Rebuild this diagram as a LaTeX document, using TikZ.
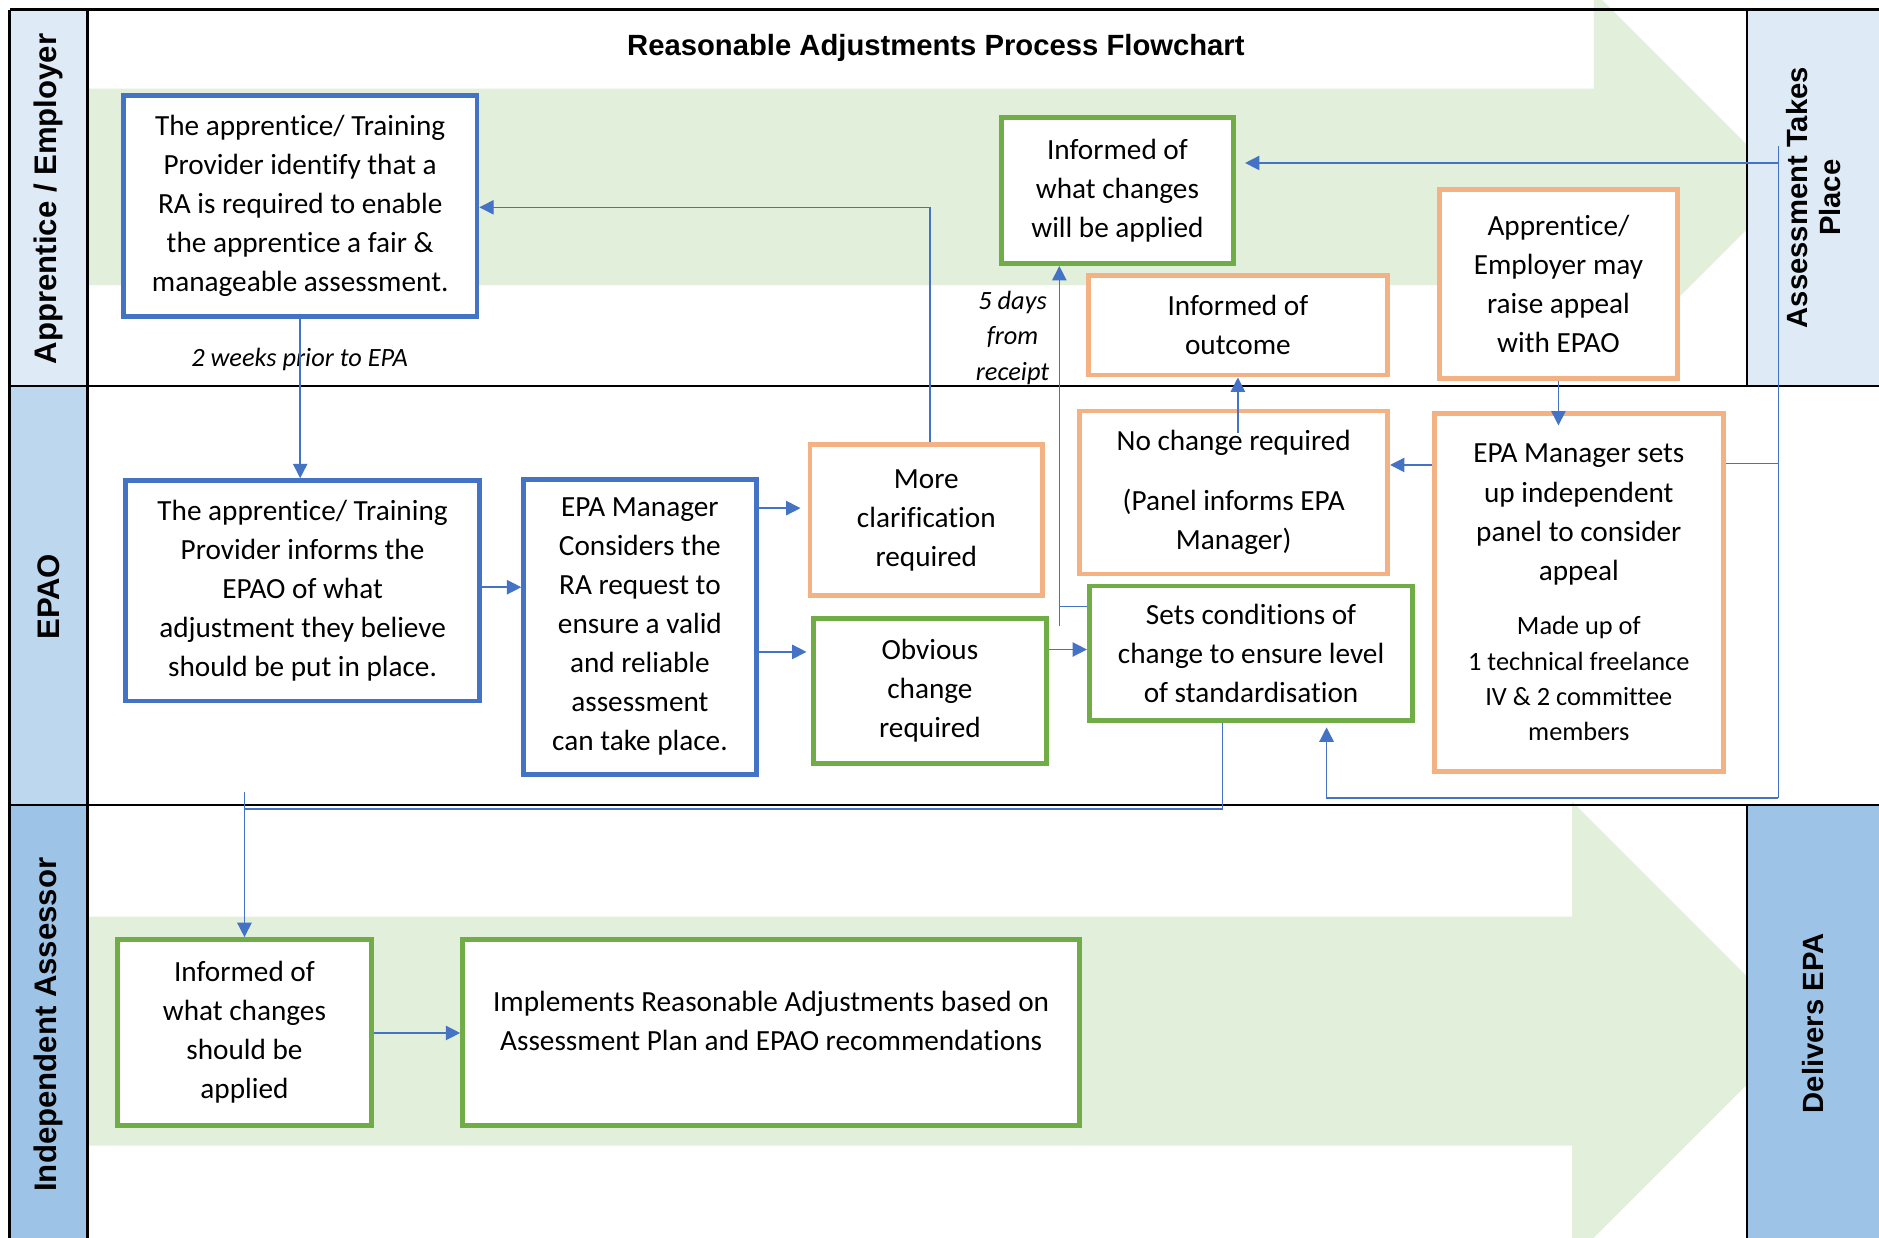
\documentclass[tikz,border=0pt]{standalone}
\usepackage{fontspec}
\setmainfont{Carlito}[Ligatures=CommonOff]
\newfontfamily\headfont{Liberation Sans}
\usetikzlibrary{arrows.meta}
\definecolor{cblue}{HTML}{4472C4}
\definecolor{corange}{HTML}{F4B183}
\definecolor{cgreen}{HTML}{70AD47}
\definecolor{afill}{HTML}{E2EFDA}
\definecolor{laneA}{HTML}{DEEBF7}
\definecolor{laneB}{HTML}{BDD7EE}
\definecolor{laneC}{HTML}{9DC3E6}
\definecolor{clink}{HTML}{4472C4}
\begin{document}
\begin{tikzpicture}[x=0.5pt,y=-0.5pt,
  box/.style={draw, line width=2pt, fill=white, align=flush center, inner sep=0pt,
    font=\fontsize{12.2}{16.3}\selectfont},
  bluebox/.style={box, draw=cblue},
  orbox/.style={box, draw=corange},
  grbox/.style={box, draw=cgreen},
  conn/.style={draw=clink, line width=0.6pt, -{Triangle[length=6pt,width=6pt]}},
  plainline/.style={draw=clink, line width=0.6pt},
  lanelbl/.style={rotate=90, align=center, font=\headfont\bfseries\fontsize{13}{15}\selectfont},
  sidelbl/.style={rotate=90, align=center, font=\headfont\bfseries\fontsize{12.2}{13.8}\selectfont},
  note/.style={font=\itshape\fontsize{11}{14.75}\selectfont, align=center, inner sep=0pt},
  frameline/.style={line width=1pt, black}]
\useasboundingbox (0,0) rectangle (1568,1033);
\fill[white] (0,0) rectangle (1568,1033);
% big arrows
\begin{scope}
\clip (0,0) rectangle (1568,1033);
\fill[afill] (73,74) -- (1330,74) -- (1330,-7) -- (1493,156) -- (1330,319) -- (1330,238) -- (73,238) -- cycle;
\fill[afill] (73,765) -- (1312,765) -- (1312,669) -- (1503,860) -- (1312,1051) -- (1312,956) -- (73,956) -- cycle;
\end{scope}
% lane fills
\fill[laneA] (8,8) rectangle (73,322);
\fill[laneB] (8,322) rectangle (73,672);
\fill[laneC] (8,672) rectangle (73,1033);
\fill[laneA] (1458,8) rectangle (1568,322);
\fill[laneC] (1458,672) rectangle (1568,1033);
% frame lines
\draw[frameline] (8,8) -- (1568,8);
\draw[frameline] (8,8) -- (8,1033);
\draw[frameline] (73,8) -- (73,1033);
\draw[frameline] (8,322) -- (1568,322);
\draw[frameline] (8,672) -- (1568,672);
\draw[frameline] (1458,8) -- (1458,322);
\draw[frameline] (1458,672) -- (1458,1033);
% labels
\node[lanelbl] (L1) at (40.5,166) {Apprentice / Employer};
\node[lanelbl] (L2) at (40.5,498) {EPAO};
\node[lanelbl] (L3) at (40.5,855) {Independent Assessor};
\node[sidelbl] (R1) at (1513,165) {Assessment Takes\\Place};
\node[sidelbl] (R3) at (1513,854) {Delivers EPA};
\node[font=\headfont\bfseries\fontsize{12.2}{14}\selectfont] (T) at (781,40) {Reasonable Adjustments Process Flowchart};
% boxes
\node[bluebox, minimum width=147.5pt, minimum height=92pt, text width=140pt] (A) at (250.5,172)
  {The apprentice/ Training\\Provider identify that a\\RA is required to enable\\the apprentice a fair \&\\manageable assessment.};
\node[bluebox, minimum width=147.5pt, minimum height=92pt, text width=140pt] (B) at (252.5,493)
  {The apprentice/ Training\\Provider informs the\\EPAO of what\\adjustment they believe\\should be put in place.};
\node[bluebox, minimum width=97pt, minimum height=123pt, text width=92pt] (C) at (534,523)
  {EPA Manager\\Considers the\\RA request to\\ensure a valid\\and reliable\\assessment\\can take place.};
\node[orbox, minimum width=97pt, minimum height=63pt, text width=92pt] (D) at (773,434)
  {More\\clarification\\required};
\node[grbox, minimum width=97pt, minimum height=60.5pt, text width=92pt] (E) at (776,576.5)
  {Obvious\\change\\required};
\node[grbox, minimum width=135pt, minimum height=56pt, text width=130pt] (F) at (1044,545)
  {Sets conditions of\\change to ensure level\\of standardisation};
\node[orbox, minimum width=128.5pt, minimum height=68pt, text width=124pt] (G) at (1029.5,411)
  {No change required\par\vspace{8.75pt}(Panel informs EPA\\Manager)};
\node[orbox, minimum width=120.5pt, minimum height=149.5pt, text width=116pt] (H) at (1317.5,494.5)
  {EPA Manager sets\\up independent\\panel to consider\\appeal\par\vspace{8pt}{\fontsize{11}{14.75}\selectfont Made up of\\1 technical freelance\\IV \& 2 committee\\members\par}};
\node[orbox, minimum width=125pt, minimum height=41.5pt, text width=120pt] (I) at (1033,271.5)
  {Informed of\\outcome};
\node[grbox, minimum width=96.5pt, minimum height=61pt, text width=92pt] (J) at (932.5,159)
  {Informed of\\what changes\\will be applied};
\node[orbox, minimum width=99.5pt, minimum height=79pt, text width=95pt] (K) at (1300.5,237)
  {Apprentice/\\Employer may\\raise appeal\\with EPAO};
\node[grbox, minimum width=106pt, minimum height=77.5pt, text width=100pt] (L) at (204,861.5)
  {Informed of\\what changes\\should be\\applied};
\node[grbox, minimum width=257.5pt, minimum height=77.5pt, text width=250pt] (M) at (643.5,861.5)
  {Implements Reasonable Adjustments based on\\Assessment Plan and EPAO recommendations\\[-7pt]\mbox{}};
% notes
\node[note] (N1) at (250,300) {2 weeks prior to EPA};
\node[note] (N2) at (845,282) {5 days\\from\\receipt};
% coordinates for free ends
\coordinate (k1) at (884,522);
\coordinate (g1) at (1033,361);
\coordinate (r1) at (1484,122);
\coordinate (r2) at (1484,666);
\coordinate (s1) at (204,661);
% connectors
\draw[conn] (A.south) -- (A.south |- B.north);
\draw[conn] (B.east |- 0,490) -- (C.west |- 0,490);
\draw[conn] (C.east |- 0,424) -- ([xshift=-3pt]D.west |- 0,424);
\draw[conn] (C.east |- 0,544) -- ([xshift=-2pt]E.west |- 0,544);
\draw[conn] (D.north -| 776,0) |- (A.east |- 0,173);
\draw[conn] (E.east |- 0,542) -- (F.west |- 0,542);
\draw[plainline] (F.west |- 0,506) -- (884,506);
\draw[conn] (k1) -- (J.south -| k1);
\draw[conn] (H.west |- 0,388) -- (G.east |- 0,388);
\draw[conn] (g1) -- (I.south);
\draw[conn] (K.south) -- ([yshift=-6pt]H.north -| K.south);
\draw[plainline] (r1) -- (r2);
\draw[conn] (r2) -| ([yshift=-2pt]F.south -| 1107,0);
\draw[conn] (r1 |- 0,136) -- ([xshift=4pt]J.east |- 0,136);
\draw[plainline] (H.east |- 0,387) -- (r1 |- 0,387);
\draw[conn] (F.south -| 1020,0) |- (s1 |- 0,675) -- (L.north);
\draw[plainline] (s1) -- (s1 |- 0,675);
\draw[conn] (L.east |- 0,862) -- (M.west |- 0,862);
\end{tikzpicture}
\end{document}
